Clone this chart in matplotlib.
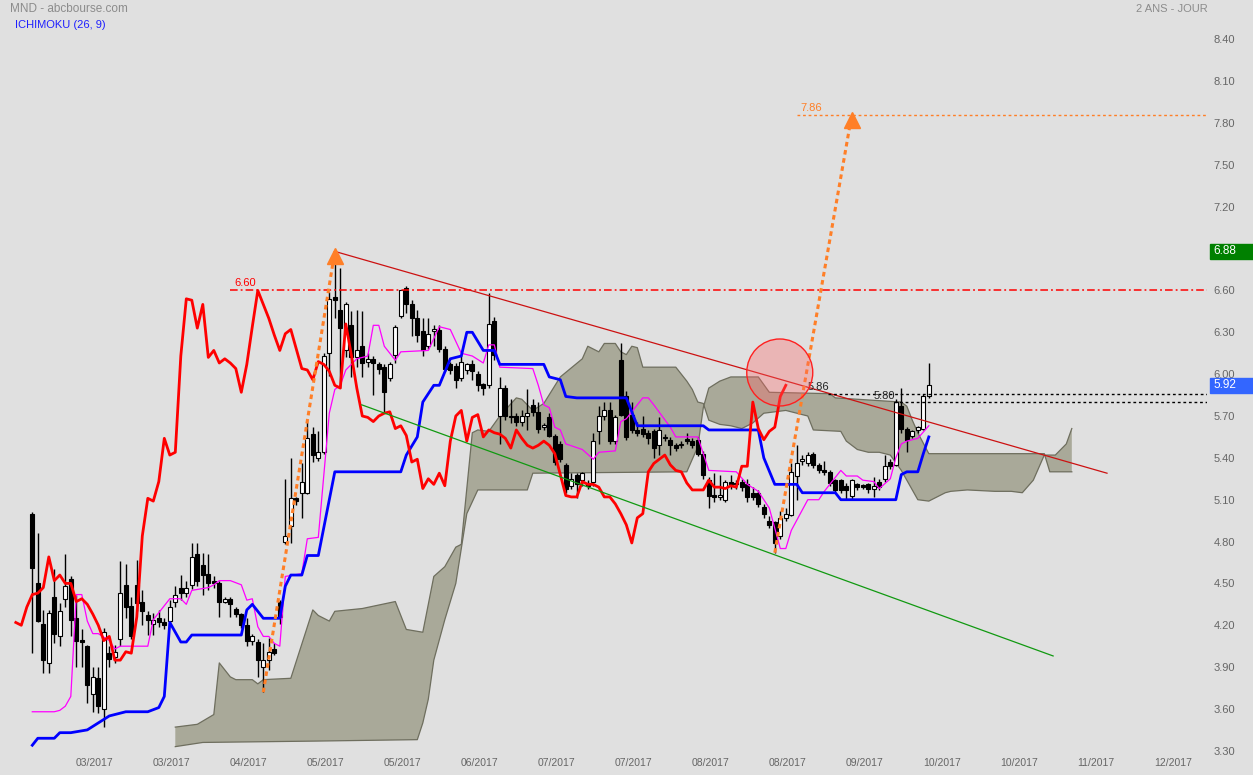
import matplotlib
matplotlib.use('Agg')
import matplotlib.pyplot as plt
import matplotlib.transforms as mtransforms
from matplotlib.patches import Ellipse, Rectangle
import numpy as np

plt.rcParams['font.family'] = ['Liberation Sans', 'DejaVu Sans']

# --- cours journaliers (barre 0 .. 163) ---
opens = [5.00, 4.50, 4.21, 3.93, 4.40, 4.12, 4.39, 4.53, 4.25, 4.09,
         4.05, 3.71, 3.82, 3.60, 4.00, 3.97, 4.10, 4.49, 4.34, 4.49,
         4.37, 4.27, 4.21, 4.25, 4.22, 4.23, 4.37, 4.47, 4.43, 4.49,
         4.71, 4.63, 4.57, 4.52, 4.50, 4.37, 4.39, 4.32, 4.28, 4.20,
         4.09, 4.08, 3.90, 3.95, 4.03, 4.37, 4.80, 4.91, 5.11, 5.15,
         5.15, 5.57, 5.40, 5.44, 6.15, 6.55, 6.46, 6.17, 6.35, 6.12,
         6.20, 6.09, 6.11, 6.07, 6.05, 5.97, 6.14, 6.42, 6.62, 6.50,
         6.40, 6.31, 6.20, 6.31, 6.32, 6.18, 6.07, 6.06, 5.97, 6.03,
         6.07, 6.00, 5.93, 5.92, 6.38, 5.70, 5.90, 5.70, 5.70, 5.66,
         5.70, 5.78, 5.73, 5.62, 5.69, 5.56, 5.50, 5.35, 5.20, 5.28,
         5.24, 5.22, 5.23, 5.59, 5.70, 5.74, 5.52, 6.10, 5.84, 5.71,
         5.60, 5.61, 5.58, 5.59, 5.49, 5.55, 5.53, 5.49, 5.49, 5.53,
         5.52, 5.53, 5.43, 5.24, 5.13, 5.12, 5.10, 5.23, 5.22, 5.23,
         5.21, 5.15, 5.15, 5.05, 4.95, 4.94, 4.84, 4.97, 4.99, 5.27,
         5.38, 5.36, 5.43, 5.35, 5.31, 5.30, 5.24, 5.24, 5.20, 5.13,
         5.21, 5.20, 5.21, 5.18, 5.23, 5.25, 5.37, 5.35, 5.77, 5.61,
         5.56, 5.60, 5.61, 5.84]
highs = [5.01, 4.86, 4.31, 4.31, 4.60, 4.36, 4.71, 4.55, 4.42, 4.17,
         4.06, 3.90, 3.90, 4.18, 4.05, 4.06, 4.66, 4.64, 4.40, 4.67,
         4.45, 4.30, 4.29, 4.31, 4.25, 4.38, 4.48, 4.56, 4.52, 4.79,
         4.79, 4.72, 4.71, 4.55, 4.52, 4.40, 4.40, 4.33, 4.29, 4.25,
         4.14, 4.10, 4.07, 4.11, 4.07, 4.38, 5.25, 5.40, 5.12, 5.36,
         5.67, 5.62, 5.59, 6.15, 6.59, 6.88, 6.76, 6.52, 6.45, 6.46,
         6.45, 6.15, 6.13, 6.09, 6.07, 6.09, 6.35, 6.60, 6.63, 6.53,
         6.46, 6.40, 6.40, 6.35, 6.35, 6.20, 6.09, 6.08, 6.14, 6.08,
         6.10, 6.02, 5.94, 6.58, 6.41, 5.98, 5.92, 5.82, 5.72, 5.74,
         5.89, 5.82, 5.80, 5.65, 5.72, 5.57, 5.52, 5.36, 5.29, 5.29,
         5.30, 5.24, 5.58, 5.77, 5.80, 5.80, 5.71, 6.22, 5.88, 5.80,
         5.66, 5.70, 5.60, 5.61, 5.69, 5.57, 5.55, 5.51, 5.52, 5.58,
         5.54, 5.55, 5.45, 5.26, 5.29, 5.28, 5.24, 5.28, 5.24, 5.25,
         5.25, 5.19, 5.17, 5.07, 4.98, 4.95, 5.02, 5.04, 5.36, 5.49,
         5.42, 5.44, 5.44, 5.36, 5.38, 5.31, 5.25, 5.25, 5.22, 5.25,
         5.22, 5.21, 5.22, 5.26, 5.25, 5.42, 5.39, 5.82, 5.90, 5.62,
         5.60, 5.63, 5.86, 6.08]
lows = [4.00, 4.22, 3.86, 3.86, 4.07, 4.05, 4.33, 4.12, 3.90, 3.90,
        3.64, 3.58, 3.57, 3.47, 3.90, 3.93, 4.05, 4.25, 4.10, 4.30,
        4.20, 4.13, 4.13, 4.19, 4.17, 4.21, 4.33, 4.38, 4.40, 4.46,
        4.48, 4.42, 4.45, 4.47, 4.26, 4.36, 4.26, 4.26, 4.18, 4.05,
        4.06, 3.83, 3.72, 3.88, 3.99, 4.21, 4.78, 4.79, 5.06, 4.97,
        5.14, 5.37, 5.38, 5.43, 5.99, 6.40, 5.90, 6.12, 5.98, 6.05,
        5.98, 6.05, 5.85, 6.00, 5.73, 5.95, 6.08, 6.40, 6.44, 6.27,
        6.23, 6.13, 6.18, 6.20, 6.16, 6.02, 6.00, 5.90, 5.95, 6.00,
        5.96, 5.88, 5.85, 5.90, 6.10, 5.50, 5.67, 5.65, 5.63, 5.63,
        5.60, 5.70, 5.58, 5.60, 5.55, 5.35, 5.37, 5.15, 5.18, 5.11,
        5.20, 5.18, 5.20, 5.50, 5.67, 5.50, 5.50, 5.70, 5.53, 5.58,
        5.56, 5.55, 5.50, 5.40, 5.42, 5.52, 5.42, 5.45, 5.47, 5.50,
        5.47, 5.41, 5.25, 5.04, 5.08, 5.10, 5.08, 5.18, 5.18, 5.16,
        5.08, 5.10, 5.05, 4.97, 4.90, 4.72, 4.82, 4.95, 4.98, 5.10,
        5.35, 5.34, 5.33, 5.29, 5.28, 5.20, 5.15, 5.15, 5.10, 5.10,
        5.17, 5.18, 5.15, 5.12, 5.17, 5.23, 5.32, 5.34, 5.58, 5.44,
        5.54, 5.58, 5.60, 5.83]
closes = [4.61, 4.23, 3.95, 4.29, 4.14, 4.30, 4.48, 4.24, 4.09, 4.08,
          3.77, 3.83, 3.62, 4.15, 3.96, 4.01, 4.43, 4.33, 4.12, 4.36,
          4.30, 4.24, 4.24, 4.22, 4.20, 4.33, 4.42, 4.43, 4.47, 4.69,
          4.52, 4.56, 4.50, 4.50, 4.37, 4.39, 4.35, 4.28, 4.20, 4.09,
          4.12, 3.95, 3.95, 4.01, 4.00, 4.26, 4.84, 5.11, 5.09, 5.23,
          5.54, 5.42, 5.44, 6.13, 6.54, 6.53, 6.33, 6.50, 6.12, 6.17,
          6.08, 6.11, 6.08, 6.04, 5.87, 6.07, 6.34, 6.60, 6.50, 6.40,
          6.28, 6.17, 6.29, 6.32, 6.18, 6.04, 6.03, 5.96, 6.09, 6.07,
          6.02, 5.92, 5.90, 6.36, 6.14, 5.90, 5.70, 5.69, 5.66, 5.70,
          5.72, 5.73, 5.61, 5.63, 5.56, 5.37, 5.39, 5.18, 5.25, 5.21,
          5.29, 5.20, 5.52, 5.70, 5.74, 5.52, 5.69, 5.71, 5.55, 5.60,
          5.58, 5.57, 5.54, 5.47, 5.60, 5.54, 5.49, 5.47, 5.49, 5.52,
          5.49, 5.43, 5.28, 5.13, 5.12, 5.12, 5.23, 5.21, 5.21, 5.19,
          5.12, 5.12, 5.07, 5.00, 4.92, 4.79, 4.97, 5.00, 5.30, 5.36,
          5.39, 5.42, 5.35, 5.31, 5.30, 5.22, 5.17, 5.17, 5.17, 5.24,
          5.19, 5.19, 5.18, 5.20, 5.19, 5.34, 5.34, 5.80, 5.61, 5.53,
          5.59, 5.62, 5.84, 5.92]

# --- Ichimoku : (barre, valeur) ---
tenkan_x = [0, 4, 5, 6, 7, 8, 9, 10, 11, 12, 14, 15, 16, 21, 22, 23, 25, 27, 28, 29,
            32, 33, 34, 36, 38, 39, 40, 41, 42, 43, 44, 45, 46, 49, 50, 52, 54, 55, 56, 57,
            59, 61, 62, 63, 64, 66, 67, 72, 74, 76, 78, 80, 82, 83, 84, 85, 91, 92, 93, 94,
            95, 96, 97, 100, 102, 103, 106, 107, 108, 111, 112, 113, 116, 117, 121, 123, 128, 130, 132, 134,
            136, 137, 138, 141, 143, 144, 147, 148, 150, 151, 153, 154, 156, 157, 158, 159, 160, 161, 163]
tenkan_y = [3.58, 3.58, 3.59, 3.62, 3.69, 4.42, 4.42, 4.23, 4.14, 4.14, 4.09, 4.03, 4.05, 4.05, 4.24, 4.29, 4.39, 4.39, 4.35, 4.45,
            4.47, 4.49, 4.52, 4.52, 4.49, 4.38, 4.39, 4.19, 4.12, 4.12, 4.07, 4.05, 4.55, 4.57, 4.82, 4.83, 5.72, 5.89, 5.92, 6.03,
            6.11, 6.13, 6.35, 6.35, 6.20, 6.10, 6.16, 6.17, 6.34, 6.32, 6.15, 6.13, 6.08, 6.21, 6.21, 6.05, 6.04, 5.92, 5.78, 5.76,
            5.62, 5.60, 5.50, 5.46, 5.39, 5.44, 5.45, 5.66, 5.68, 5.83, 5.83, 5.78, 5.62, 5.55, 5.55, 5.31, 5.30, 5.21, 5.16, 5.04,
            4.75, 4.75, 4.88, 5.10, 5.10, 5.16, 5.31, 5.27, 5.27, 5.24, 5.23, 5.18, 5.25, 5.40, 5.50, 5.52, 5.53, 5.54, 5.63]

kijun_x = [0, 1, 4, 5, 7, 10, 12, 14, 17, 21, 23, 24, 25, 27, 28, 29, 38, 39, 40, 42,
           45, 46, 47, 49, 50, 52, 55, 67, 68, 70, 71, 73, 74, 76, 78, 79, 80, 82, 84, 85,
           93, 94, 96, 97, 99, 108, 110, 122, 123, 132, 133, 135, 139, 140, 146, 147, 157, 158, 159, 161,
           162, 163]
kijun_y = [3.34, 3.39, 3.39, 3.43, 3.43, 3.45, 3.50, 3.55, 3.58, 3.58, 3.61, 3.69, 4.22, 4.08, 4.08, 4.13, 4.13, 4.31, 4.35, 4.25,
           4.25, 4.48, 4.56, 4.56, 4.70, 4.70, 5.30, 5.30, 5.42, 5.55, 5.80, 5.92, 5.92, 6.11, 6.13, 6.30, 6.30, 6.17, 6.17, 6.07,
           6.07, 5.98, 5.96, 5.84, 5.83, 5.83, 5.63, 5.63, 5.60, 5.60, 5.40, 5.21, 5.21, 5.15, 5.15, 5.10, 5.10, 5.28, 5.30, 5.30,
           5.43, 5.55]

span_a_x = [26, 30, 33, 34, 36, 37, 40, 41, 42, 47, 51, 52, 54, 55, 60, 66, 68, 71, 73, 75,
            77, 78, 80, 81, 83, 85, 88, 89, 91, 93, 96, 100, 101, 103, 104, 106, 107, 108, 109, 110,
            111, 117, 119, 120, 121, 122, 123, 125, 127, 129, 131, 133, 135, 137, 139, 141, 142, 147, 148, 150,
            152, 154, 156, 158, 160, 161, 163, 166, 167, 170, 175, 178, 180, 182, 184, 186, 188, 189]
span_a_y = [3.47, 3.49, 3.56, 3.93, 3.83, 3.81, 3.81, 3.78, 3.81, 3.82, 4.31, 4.27, 4.23, 4.30, 4.32, 4.37, 4.17, 4.15, 4.55, 4.62,
            4.76, 4.78, 5.58, 5.60, 5.59, 5.70, 5.83, 5.82, 5.74, 5.79, 5.98, 6.11, 6.20, 6.16, 6.22, 6.22, 6.16, 6.14, 6.20, 6.19,
            6.05, 6.05, 5.95, 5.89, 5.80, 5.79, 5.67, 5.64, 5.63, 5.61, 5.65, 5.72, 5.73, 5.74, 5.72, 5.70, 5.60, 5.59, 5.52, 5.46,
            5.44, 5.44, 5.42, 5.31, 5.17, 5.10, 5.09, 5.15, 5.16, 5.17, 5.16, 5.16, 5.15, 5.24, 5.42, 5.42, 5.50, 5.61]

span_b_x = [26, 31, 52, 70, 71, 72, 73, 75, 77, 78, 79, 81, 90, 91, 119, 121, 122, 123, 125, 127,
            132, 134, 145, 146, 158, 159, 160, 161, 163, 184, 185, 189]
span_b_y = [3.33, 3.36, 3.37, 3.38, 3.50, 3.67, 3.95, 4.24, 4.50, 4.75, 5.00, 5.17, 5.17, 5.29, 5.30, 5.48, 5.76, 5.90, 5.95, 5.98,
            5.98, 5.87, 5.86, 5.83, 5.80, 5.77, 5.67, 5.58, 5.43, 5.43, 5.30, 5.30]

# --- annotations ---
date_labels = ['03/2017', '03/2017', '04/2017', '05/2017', '05/2017', '06/2017', '07/2017', '07/2017',
               '08/2017', '08/2017', '09/2017', '10/2017', '10/2017', '11/2017', '12/2017']
res_line = [55, 6.88, 195.4, 5.29]      # oblique rouge (x0, y0, x1, y1)
sup_line = [59.9, 5.78, 185.6, 3.98]    # oblique verte
target1 = [42, 55, 6.88]                # barre depart, barre cible, objectif
target2 = [135, 149, 7.86]
level_660 = 6.60
level_786 = 7.86
level_586 = 5.86
level_580 = 5.80
last_high = 6.88
last_close = 5.92

BG = '#e0e0e0'
ORANGE = '#ff7f27'

fig = plt.figure(figsize=(12.53, 7.75), dpi=100, facecolor=BG)
ax = fig.add_axes([0, 20 / 775, 1207 / 1253, 755 / 775], facecolor=BG)
ax.set_xlim(-5.873, 213.58)
ax.set_ylim(3.270, 8.682)
for s in ax.spines.values():
    s.set_visible(False)

# nuage
ax.fill(np.r_[span_a_x, span_b_x[::-1]], np.r_[span_a_y, span_b_y[::-1]],
        color='#a9a999', lw=0, zorder=1)
ax.plot(span_a_x, span_a_y, color='#6e6e5e', lw=0.9, zorder=1.5)
ax.plot(span_b_x, span_b_y, color='#6e6e5e', lw=0.9, zorder=1.5)

# chandeliers
x = np.arange(len(closes))
o = np.array(opens)
c = np.array(closes)
up = c >= o
bottom = np.minimum(o, c)
height = np.maximum(np.abs(c - o), 0.012)
ax.vlines(x, lows, highs, color='black', lw=1, zorder=3)
ax.bar(x[up], height[up], bottom=bottom[up], width=0.78, color='white',
       edgecolor='black', lw=0.8, zorder=4)
ax.bar(x[~up], height[~up], bottom=bottom[~up], width=0.78, color='black',
       edgecolor='black', lw=0.8, zorder=4)

# lignes ichimoku
ax.plot(tenkan_x, tenkan_y, color='#ff00ff', lw=0.9, zorder=5)
ax.plot(kijun_x, kijun_y, color='#0000ff', lw=2.0, zorder=5)
ax.plot(np.arange(-3, len(closes) - 26), closes[23:], color='#ff0000', lw=2.0, zorder=5)

# obliques
ax.plot(res_line[0::2], res_line[1::2], color='#cc1111', lw=0.9, zorder=6)
ax.plot(sup_line[0::2], sup_line[1::2], color='#119911', lw=0.9, zorder=6)

# niveaux horizontaux
xr = ax.get_xlim()[1]
ax.hlines(level_660, 35.9, xr, color='#ff0000', lw=1.1, linestyles=[(0, (5, 2, 1.2, 2))], zorder=6)
ax.text(36.7, level_660 + 0.015, '6.60', color='#ff0000', fontsize=8, va='bottom')
ax.hlines(level_786, 139.0, xr, color=ORANGE, lw=1, linestyles=[(0, (2, 2))], zorder=6)
ax.text(139.6, level_786 + 0.015, '7.86', color=ORANGE, fontsize=8, va='bottom')
ax.hlines(level_586, 144.6, xr, color='black', lw=1, linestyles=[(0, (2, 2))], zorder=6)
ax.text(141.0, level_586 + 0.01, '5.86', color='#222222', fontsize=8, va='bottom', zorder=7)
ax.hlines(level_580, 156.6, xr, color='black', lw=1, linestyles=[(0, (2, 2))], zorder=6)
ax.text(152.9, level_580 + 0.01, '5.80', color='#222222', fontsize=8, va='bottom', zorder=7)

# objectifs (fleches pointillees)
for start, end, goal in (target1, target2):
    ax.plot([start, end], [lows[start], goal], color=ORANGE, lw=2.2,
            linestyle=(0, (1.5, 1.2)), zorder=7)
    ax.plot(end, goal - 0.035, marker='^', color=ORANGE, markersize=11, zorder=7)

# cercle
ax.add_patch(Ellipse((135.9, 6.012), 12.0, 0.48, facecolor=(1, 0.4, 0.4, 0.35),
                     edgecolor='#ff2020', lw=1, zorder=8))

# axes
ticks = [11.35 + 14 * k for k in range(len(date_labels))]
ax.set_xticks(ticks, date_labels)
ax.yaxis.tick_right()
yt = np.round(np.arange(3.30, 8.41, 0.30), 2)
ax.set_yticks(yt, ['%.2f' % v for v in yt])
ax.tick_params(axis='x', length=0, pad=2.5, labelsize=7.5, labelcolor='#666666')
ax.tick_params(axis='y', length=0, pad=4.5, labelsize=8, labelcolor='#666666')

# etiquettes de prix a droite
trans = mtransforms.blended_transform_factory(fig.transFigure, ax.transData)
for val, col in ((last_high, '#008000'), (last_close, '#3366ff')):
    ax.add_patch(Rectangle((1210 / 1253, val - 0.054), 43 / 1253, 0.108, transform=trans,
                           color=col, clip_on=False, zorder=10))
    ax.text(1213 / 1253, val, '%.2f' % val, transform=trans, color='white', fontsize=8.5,
            va='center', ha='left', clip_on=False, zorder=11)

fig.text(10 / 1253, 1 - 9 / 775, 'MND - abcbourse.com', color='#8c8c8c', fontsize=8.5, va='center')
fig.text(15 / 1253, 1 - 25 / 775, 'ICHIMOKU (26, 9)', color='#1f1fff', fontsize=8, va='center')
fig.text(1208 / 1253, 1 - 9 / 775, '2 ANS - JOUR', color='#8c8c8c', fontsize=8, va='center', ha='right')

fig.savefig('out.png', dpi=100, facecolor=BG)
